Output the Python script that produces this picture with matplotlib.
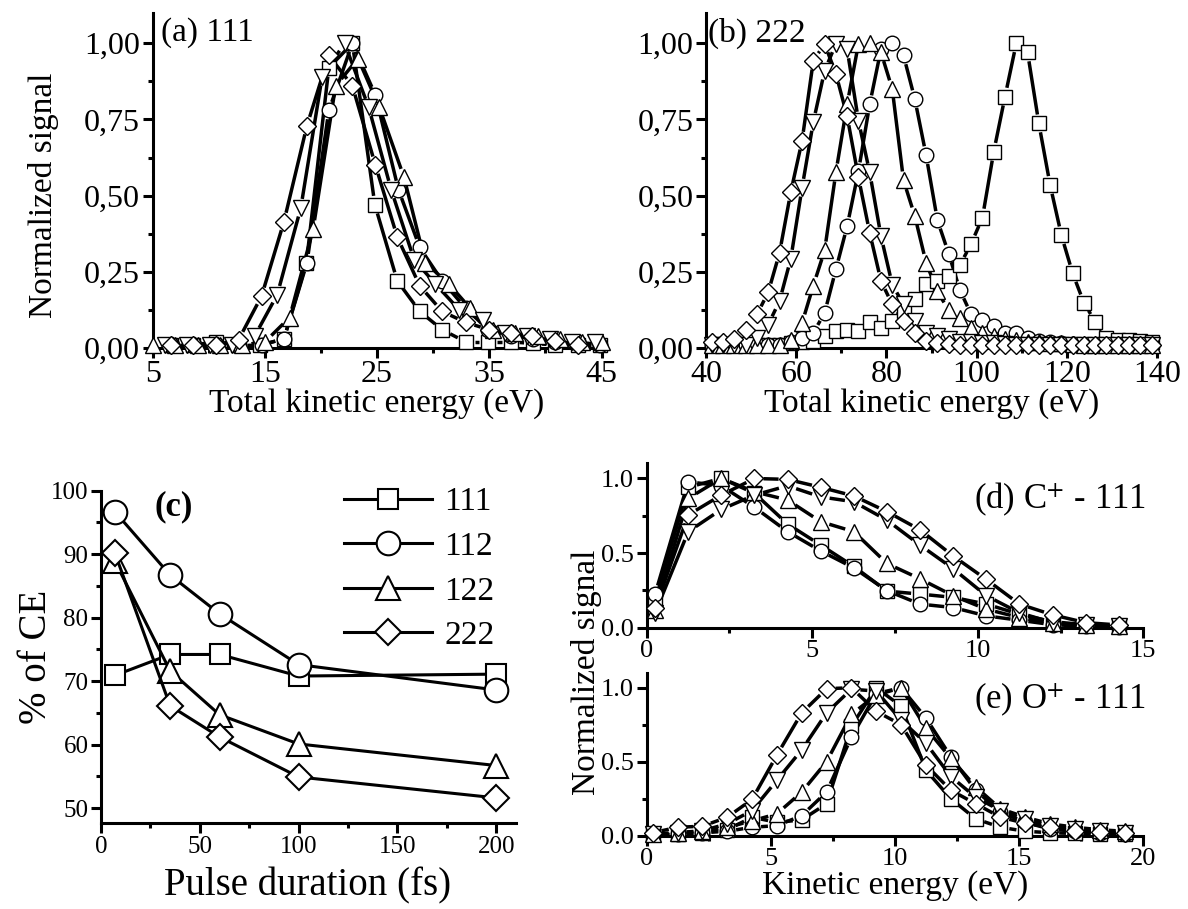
import numpy as np
import matplotlib
matplotlib.use("Agg")
import matplotlib.pyplot as plt
from matplotlib.collections import LineCollection
from matplotlib import ticker

plt.rcParams['font.family'] = ['Liberation Serif', 'DejaVu Serif']
plt.rcParams['mathtext.fontset'] = 'stix'

# ---------------- data ----------------
# (a) 111 : total kinetic energy distributions
a_sq_x = [6.6, 8.6, 10.6, 12.6, 14.6, 16.7, 18.7, 20.7, 22.8, 24.8, 26.8, 28.8, 30.8, 32.9, 34.9, 36.9, 38.9, 40.9, 42.9, 44.9]
a_sq_y = [0.01, 0.01, 0.02, 0.01, 0.01, 0.03, 0.28, 0.92, 1.00, 0.47, 0.22, 0.12, 0.06, 0.02, 0.02, 0.02, 0.015, 0.01, 0.01, 0.01]
a_ci_x = [6.7, 8.7, 10.7, 12.7, 14.7, 16.7, 18.75, 20.7, 22.8, 24.85, 26.9, 28.8, 30.8, 32.9, 34.9, 36.9, 38.9, 40.9, 42.9, 44.9]
a_ci_y = [0.01, 0.01, 0.01, 0.01, 0.01, 0.03, 0.28, 0.78, 1.00, 0.83, 0.52, 0.33, 0.22, 0.13, 0.06, 0.04, 0.03, 0.02, 0.02, 0.01]
a_tu_x = [5.0, 7.0, 9.0, 11.0, 13.0, 15.0, 17.2, 19.3, 21.3, 23.3, 25.2, 27.4, 29.3, 31.4, 33.3, 35.3, 37.3, 39.3, 41.3, 43.3, 45.0]
a_tu_y = [0.01, 0.01, 0.01, 0.01, 0.01, 0.02, 0.10, 0.39, 0.86, 0.95, 0.79, 0.56, 0.28, 0.21, 0.13, 0.06, 0.05, 0.04, 0.03, 0.02, 0.02]
a_td_x = [6.1, 8.1, 10.1, 12.1, 14.1, 16.1, 18.2, 20.1, 22.1, 24.25, 26.25, 28.3, 30.2, 32.3, 34.4, 36.4, 38.4, 40.4, 42.4, 44.4]
a_td_y = [0.01, 0.01, 0.01, 0.01, 0.04, 0.175, 0.46, 0.89, 1.00, 0.79, 0.52, 0.29, 0.21, 0.126, 0.093, 0.05, 0.04, 0.03, 0.02, 0.02]
a_di_x = [6.6, 8.6, 10.6, 12.65, 14.7, 16.7, 18.75, 20.7, 22.8, 24.85, 26.8, 28.8, 30.8, 32.9, 35.0, 36.9, 38.8, 40.9, 42.9]
a_di_y = [0.01, 0.01, 0.01, 0.027, 0.17, 0.415, 0.73, 0.96, 0.86, 0.60, 0.364, 0.204, 0.12, 0.084, 0.06, 0.05, 0.038, 0.022, 0.01]

# (b) 222 : common energy grid
b_x = [41.3, 43.8, 46.3, 48.8, 51.3, 53.8, 56.3, 58.8, 61.3, 63.8, 66.3, 68.8, 71.3, 73.8, 76.3, 78.8,
       81.3, 83.8, 86.3, 88.8, 91.3, 93.8, 96.3, 98.8, 101.3, 103.8, 106.3, 108.8, 111.3, 113.8, 116.3,
       118.8, 121.3, 123.8, 126.3, 128.8, 131.3, 133.8, 136.3, 138.8]
b_sq_y = [0.01, 0.01, 0.01, 0.01, 0.01, 0.01, 0.01, 0.015, 0.02, 0.022, 0.04, 0.055, 0.06, 0.057, 0.084, 0.066,
          0.088, 0.12, 0.16, 0.21, 0.22, 0.236, 0.272, 0.342, 0.428, 0.644, 0.825, 1.0, 0.97, 0.737, 0.535,
          0.37, 0.245, 0.148, 0.086, 0.033, 0.027, 0.025, 0.022, 0.019]
b_ci_y = [0.01, 0.01, 0.01, 0.01, 0.01, 0.01, 0.01, 0.02, 0.033, 0.05, 0.115, 0.258, 0.40, 0.58, 0.80, 0.98,
          1.0, 0.96, 0.817, 0.633, 0.42, 0.31, 0.19, 0.11, 0.091, 0.073, 0.05, 0.05, 0.033, 0.022, 0.02,
          0.015, 0.012, 0.01, 0.01, 0.01, 0.01, 0.01, 0.01, 0.01]
b_tu_y = [0.01, 0.01, 0.01, 0.01, 0.01, 0.01, 0.01, 0.027, 0.082, 0.205, 0.32, 0.576, 0.80, 0.998, 1.0, 0.97,
          0.85, 0.55, 0.433, 0.28, 0.186, 0.124, 0.099, 0.066, 0.05, 0.04, 0.03, 0.025, 0.02, 0.02, 0.015,
          0.015, 0.012, 0.01, 0.01, 0.01, 0.01, 0.01, 0.01, 0.01]
b_td_y = [0.01, 0.01, 0.01, 0.01, 0.033, 0.077, 0.154, 0.293, 0.526, 0.742, 0.91, 0.998, 0.98, 0.746, 0.576, 0.367,
          0.208, 0.143, 0.088, 0.05, 0.038, 0.03, 0.02, 0.02, 0.015, 0.015, 0.012, 0.01, 0.01, 0.01, 0.01,
          0.01, 0.01, 0.01, 0.01, 0.01, 0.01, 0.01, 0.01, 0.01]
b_di_y = [0.02, 0.02, 0.03, 0.06, 0.11, 0.183, 0.312, 0.512, 0.68, 0.943, 0.998, 0.90, 0.76, 0.56, 0.378, 0.22,
          0.143, 0.088, 0.05, 0.022, 0.015, 0.012, 0.01, 0.01, 0.01, 0.01, 0.01, 0.01, 0.01, 0.01, 0.01,
          0.01, 0.01, 0.01, 0.01, 0.01, 0.01, 0.01, 0.01, 0.01]

# (c) % of CE vs pulse duration
c_pulse = [7, 35, 60, 100, 200]
c_labels = ['111', '112', '122', '222']
c_111 = [70.9, 74.2, 74.2, 70.8, 71.1]
c_112 = [96.7, 86.7, 80.6, 72.6, 68.6]
c_122 = [88.9, 71.6, 64.7, 60.1, 56.7]
c_222 = [90.2, 66.1, 61.2, 54.9, 51.6]

# (d) C+ - 111
d_x = [0.26, 1.26, 2.26, 3.26, 4.26, 5.26, 6.26, 7.26, 8.26, 9.26, 10.26, 11.26, 12.26, 13.26, 14.26]
d_sq_y = [0.18, 0.94, 1.0, 0.90, 0.694, 0.553, 0.41, 0.245, 0.225, 0.203, 0.158, 0.09, 0.04, 0.02, 0.01]
d_ci_y = [0.225, 0.977, 0.95, 0.806, 0.643, 0.514, 0.40, 0.248, 0.158, 0.135, 0.079, 0.05, 0.02, 0.01, 0.005]
d_tu_y = [0.12, 0.866, 1.0, 0.91, 0.855, 0.71, 0.643, 0.43, 0.327, 0.214, 0.124, 0.068, 0.03, 0.015, 0.01]
d_td_y = [0.10, 0.643, 0.792, 0.888, 0.95, 0.876, 0.843, 0.72, 0.553, 0.395, 0.214, 0.10, 0.034, 0.015, 0.01]
d_di_y = [0.13, 0.755, 0.888, 0.999, 0.993, 0.94, 0.882, 0.777, 0.655, 0.48, 0.323, 0.158, 0.086, 0.034, 0.018]

# (e) O+ - 111
e_x = [0.25, 1.25, 2.25, 3.25, 4.25, 5.25, 6.25, 7.25, 8.25, 9.25, 10.25, 11.25, 12.25, 13.25, 14.25,
       15.25, 16.25, 17.25, 18.25, 19.25]
e_sq_y = [0.01, 0.01, 0.02, 0.04, 0.125, 0.09, 0.107, 0.216, 0.74, 1.0, 0.875, 0.443, 0.25, 0.114, 0.057,
          0.03, 0.02, 0.015, 0.01, 0.01]
e_ci_y = [0.01, 0.01, 0.02, 0.03, 0.057, 0.068, 0.136, 0.295, 0.666, 0.96, 1.0, 0.795, 0.534, 0.307, 0.16,
          0.09, 0.045, 0.03, 0.02, 0.01]
e_tu_y = [0.01, 0.02, 0.03, 0.057, 0.10, 0.148, 0.295, 0.50, 0.82, 0.95, 1.0, 0.727, 0.523, 0.33, 0.182,
          0.125, 0.08, 0.057, 0.04, 0.03]
e_td_y = [0.01, 0.02, 0.034, 0.08, 0.17, 0.375, 0.58, 0.83, 0.99, 0.977, 0.78, 0.625, 0.40, 0.26, 0.17,
          0.11, 0.068, 0.045, 0.03, 0.02]
e_di_y = [0.02, 0.057, 0.064, 0.125, 0.245, 0.545, 0.83, 0.993, 1.0, 0.84, 0.75, 0.477, 0.307, 0.216, 0.125,
          0.084, 0.057, 0.034, 0.025, 0.02]

# ---------------- figure ----------------
W, H = 1188, 909
fig = plt.figure(figsize=(W / 100, H / 100), dpi=100)


def px_axes(l, t, r, b):
    return fig.add_axes([l / W, 1 - b / H, (r - l) / W, (b - t) / H])


def style(ax, fs, lw=2.2):
    for s in ['top', 'right']:
        ax.spines[s].set_visible(False)
    for s in ['left', 'bottom']:
        ax.spines[s].set_linewidth(lw)
    ax.tick_params(which='major', direction='out', length=7, width=lw, labelsize=fs, pad=2)
    ax.tick_params(which='minor', direction='out', length=3.5, width=lw)


def ftxt(x, y, s, **kw):
    fig.text(x / W, 1 - y / H, s, **kw)


MK = {'sq': dict(marker='s', ms=9.5), 'ci': dict(marker='o', ms=10.5), 'tu': dict(marker='^', ms=12),
      'td': dict(marker='v', ms=12), 'di': dict(marker='D', ms=9)}


def gap_series(ax, x, y, kind, gap=9.0):
    pts = ax.transData.transform(np.column_stack([x, y]))
    inv = ax.transData.inverted()
    segs = []
    for p0, p1 in zip(pts[:-1], pts[1:]):
        d = p1 - p0
        L = np.hypot(d[0], d[1])
        if L <= 2 * gap + 1:
            continue
        u = d / L
        segs.append(inv.transform(np.array([p0 + u * gap, p1 - u * gap])))
    ax.add_collection(LineCollection(segs, colors='k', linewidths=2.5, capstyle='butt',
                                     zorder=2), autolim=False)
    ax.plot(x, y, ls='none', mfc='white', mec='k', mew=1.0, zorder=3, clip_on=False, **MK[kind])


axA = px_axes(152.7, 12.8, 601.5, 348)
axB = px_axes(706, 12.8, 1157, 348)
axC = px_axes(101, 490.7, 516, 823.3)
axD = px_axes(646.5, 463.4, 1143.3, 627.7)
axE = px_axes(646.5, 672.9, 1143.3, 835.7)

comma = ticker.FuncFormatter(lambda v, p: f"{v:.2f}".replace('.', ','))
one = ticker.FuncFormatter(lambda v, p: f"{v:.1f}")

# (a)
axA.set_xlim(5, 45)
axA.set_ylim(0, 1.1)
axA.xaxis.set_minor_locator(ticker.MultipleLocator(5))
axA.set_xticks([5, 15, 25, 35, 45])
axA.yaxis.set_major_locator(ticker.FixedLocator([0, 0.25, 0.5, 0.75, 1.0]))
axA.yaxis.set_minor_locator(ticker.MultipleLocator(0.125))
axA.yaxis.set_major_formatter(comma)
style(axA, 23)
for xs, ys, k in [(a_sq_x, a_sq_y, 'sq'), (a_ci_x, a_ci_y, 'ci'), (a_tu_x, a_tu_y, 'tu'),
                  (a_td_x, a_td_y, 'td'), (a_di_x, a_di_y, 'di')]:
    gap_series(axA, xs, ys, k)

# (b)
axB.set_xlim(40, 140)
axB.set_ylim(0, 1.1)
axB.xaxis.set_major_locator(ticker.MultipleLocator(20))
axB.xaxis.set_minor_locator(ticker.MultipleLocator(10))
axB.yaxis.set_major_locator(ticker.FixedLocator([0, 0.25, 0.5, 0.75, 1.0]))
axB.yaxis.set_minor_locator(ticker.MultipleLocator(0.125))
axB.yaxis.set_major_formatter(comma)
style(axB, 23)
for ys, k in [(b_sq_y, 'sq'), (b_ci_y, 'ci'), (b_tu_y, 'tu'), (b_td_y, 'td'), (b_di_y, 'di')]:
    gap_series(axB, b_x, ys, k)

# (c)
axC.set_xlim(0, 210)
axC.set_ylim(47.6, 100)
axC.xaxis.set_major_locator(ticker.MultipleLocator(50))
axC.xaxis.set_minor_locator(ticker.MultipleLocator(25))
axC.yaxis.set_major_locator(ticker.MultipleLocator(10))
axC.yaxis.set_minor_locator(ticker.MultipleLocator(5))
style(axC, 18)
cstyles = [dict(marker='s', ms=14), dict(marker='o', ms=17), dict(marker='^', ms=17), dict(marker='D', ms=13)]
handles = []
for ys, st in zip([c_111, c_112, c_122, c_222], cstyles):
    h, = axC.plot(c_pulse, ys, color='k', lw=2.2, mfc='white', mec='k', mew=1.5, clip_on=False, **st)
    handles.append(h)
axC.legend(handles, c_labels, loc='upper left', bbox_to_anchor=(344 / W, 1 - 487 / H),
           bbox_transform=fig.transFigure, frameon=False, fontsize=24, borderpad=0,
           handlelength=2.64, handletextpad=0.36, labelspacing=0.42, numpoints=1, borderaxespad=0)

# (d)
axD.set_xlim(0, 15)
axD.set_ylim(0, 1.1)
axD.xaxis.set_major_locator(ticker.MultipleLocator(5))
axD.xaxis.set_minor_locator(ticker.MultipleLocator(2.5))
axD.yaxis.set_major_locator(ticker.FixedLocator([0, 0.5, 1.0]))
axD.yaxis.set_minor_locator(ticker.MultipleLocator(0.25))
axD.yaxis.set_major_formatter(one)
style(axD, 19)
for ys, k in [(d_sq_y, 'sq'), (d_ci_y, 'ci'), (d_tu_y, 'tu'), (d_td_y, 'td'), (d_di_y, 'di')]:
    gap_series(axD, d_x, ys, k)

# (e)
axE.set_xlim(0, 20)
axE.set_ylim(0, 1.1)
axE.xaxis.set_major_locator(ticker.MultipleLocator(5))
axE.xaxis.set_minor_locator(ticker.MultipleLocator(2.5))
axE.yaxis.set_major_locator(ticker.FixedLocator([0, 0.5, 1.0]))
axE.yaxis.set_minor_locator(ticker.MultipleLocator(0.25))
axE.yaxis.set_major_formatter(one)
style(axE, 19)
for ys, k in [(e_sq_y, 'sq'), (e_ci_y, 'ci'), (e_tu_y, 'tu'), (e_td_y, 'td'), (e_di_y, 'di')]:
    gap_series(axE, e_x, ys, k)

# ---------------- texts ----------------
ftxt(44, 195, 'Normalized signal', fontsize=24, rotation=90, ha='center', va='center')
ftxt(377, 404, 'Total kinetic energy (eV)', fontsize=24, ha='center', va='center')
ftxt(932, 404, 'Total kinetic energy (eV)', fontsize=24, ha='center', va='center')
ftxt(161, 33, '(a) 111', fontsize=24, ha='left', va='center')
ftxt(708, 33, '(b) 222', fontsize=24, ha='left', va='center')

ftxt(37, 657, '% of CE', fontsize=28, rotation=90, ha='center', va='center')
ftxt(308, 886, 'Pulse duration (fs)', fontsize=28, ha='center', va='center')
ftxt(174, 507, '(c)', fontsize=25, fontweight='bold', ha='center', va='center')

ftxt(587, 672, 'Normalized signal', fontsize=24, rotation=90, ha='center', va='center')
ftxt(895, 886, 'Kinetic energy (eV)', fontsize=24, ha='center', va='center')
ftxt(1146, 500, '(d) C$^{+}$ - 111', fontsize=25, ha='right', va='center')
ftxt(1146, 700, '(e) O$^{+}$ - 111', fontsize=25, ha='right', va='center')

fig.savefig('out.png', dpi=100)
